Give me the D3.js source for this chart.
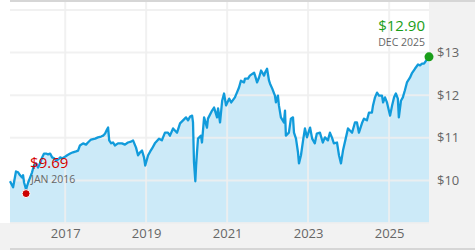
<!DOCTYPE html>
<html>
<head>
<meta charset="utf-8">
<script src="https://cdn.jsdelivr.net/npm/d3@7"></script>
<style>
  html, body { margin: 0; padding: 0; background: #fff; }
  svg { display: block; font-family: "Open Sans", sans-serif; }
</style>
</head>
<body>
<div id="chart"></div>
<script>
// price history
var dates = [
  "2015-08-22","2015-09-19","2015-10-15","2015-11-03","2015-11-21","2015-12-09","2015-12-18","2015-12-27",
  "2016-01-14","2016-02-02","2016-02-20","2016-03-08","2016-03-25","2016-04-13","2016-05-01","2016-05-19",
  "2016-06-07","2016-06-24","2016-07-12","2016-07-30","2016-08-18","2016-09-05","2016-09-23","2016-10-11",
  "2016-10-29","2016-11-17","2016-12-04","2016-12-22","2017-01-19","2017-02-15","2017-03-12","2017-04-09",
  "2017-04-27","2017-05-14","2017-06-11","2017-07-08","2017-07-25","2017-08-22","2017-09-28","2017-10-24",
  "2017-11-21","2017-12-09","2017-12-27","2018-01-14","2018-01-23","2018-02-02","2018-02-20","2018-03-08",
  "2018-03-25","2018-04-22","2018-05-28","2018-06-24","2018-07-21","2018-08-18","2018-09-05","2018-10-02",
  "2018-10-20","2018-11-08","2018-11-25","2018-12-13","2018-12-24","2019-01-19","2019-02-07","2019-02-24",
  "2019-03-21","2019-04-27","2019-05-23","2019-06-20","2019-07-17","2019-08-04","2019-09-01","2019-10-07",
  "2019-11-03","2019-11-30","2019-12-27","2020-01-14","2020-02-02","2020-02-20","2020-02-28","2020-03-08",
  "2020-03-20","2020-03-27","2020-04-04","2020-04-13","2020-05-10","2020-05-19","2020-06-07","2020-07-03",
  "2020-07-12","2020-08-18","2020-09-05","2020-10-02","2020-10-11","2020-10-29","2020-11-17","2020-12-04",
  "2020-12-22","2021-01-19","2021-02-07","2021-03-12","2021-03-30","2021-04-18","2021-05-05","2021-06-02",
  "2021-06-11","2021-07-08","2021-07-25","2021-09-01","2021-09-10","2021-09-28","2021-10-15","2021-11-03",
  "2021-11-30","2021-12-09","2021-12-27","2022-01-14","2022-01-23","2022-02-11","2022-03-08","2022-03-17",
  "2022-04-04","2022-04-13","2022-05-01","2022-05-28","2022-06-07","2022-06-15","2022-07-12","2022-07-30",
  "2022-08-18","2022-08-27","2022-09-14","2022-10-02","2022-10-11","2022-10-29","2022-11-17","2022-12-04",
  "2022-12-22","2023-01-10","2023-01-19","2023-02-07","2023-03-03","2023-03-21","2023-04-18","2023-05-14",
  "2023-06-02","2023-06-29","2023-07-17","2023-08-04","2023-08-22","2023-09-19","2023-10-07","2023-10-25",
  "2023-11-12","2023-12-09","2023-12-27","2024-01-14","2024-02-02","2024-02-28","2024-03-17","2024-04-04",
  "2024-05-01","2024-05-19","2024-06-15","2024-07-03","2024-07-30","2024-08-09","2024-08-27","2024-09-14",
  "2024-10-02","2024-10-29","2024-11-08","2024-11-25","2024-12-13","2025-01-10","2025-01-28","2025-02-15",
  "2025-03-03","2025-03-21","2025-03-30","2025-04-18","2025-05-05","2025-05-23","2025-06-11","2025-07-08",
  "2025-07-25","2025-08-22","2025-09-19","2025-10-07","2025-10-25","2025-11-12","2025-12-09","2025-12-27"
];
var prices = [
  9.98,9.84,10.21,10.19,10.12,10.07,10.12,9.95,
  9.79,9.95,10.07,10.19,10.35,10.40,10.30,10.40,
  10.54,10.63,10.63,10.61,10.63,10.54,10.52,10.47,
  10.49,10.54,10.52,10.54,10.59,10.63,10.66,10.68,
  10.70,10.82,10.87,10.84,10.89,10.96,10.98,11.01,
  11.03,11.05,11.10,11.20,11.24,10.94,10.87,10.89,
  10.82,10.87,10.87,10.84,10.89,10.91,10.94,10.77,
  10.59,10.66,10.70,10.54,10.35,10.59,10.68,10.75,
  10.87,10.98,10.94,11.12,11.12,11.05,11.22,11.12,
  11.34,11.41,11.48,11.41,11.50,11.52,11.36,10.42,
  9.98,10.35,10.66,10.98,11.05,10.89,11.48,11.24,
  11.45,11.64,11.71,11.48,11.69,11.36,11.87,12.04,
  11.76,11.92,11.83,11.95,12.06,12.18,12.34,12.30,
  12.39,12.39,12.46,12.53,12.46,12.30,12.41,12.58,
  12.46,12.53,12.62,12.34,12.27,12.16,11.99,11.83,
  11.99,11.76,11.48,11.36,11.64,11.05,11.12,11.45,
  11.48,11.12,10.98,10.66,10.40,10.59,10.94,11.22,
  11.01,11.17,11.24,10.98,10.87,11.10,11.12,10.89,
  11.01,10.94,11.12,11.01,10.87,10.89,10.59,10.40,
  10.70,11.01,11.22,11.17,11.12,11.36,11.36,11.12,
  11.34,11.45,11.41,11.59,11.59,11.76,11.95,12.06,
  11.99,11.99,11.83,11.95,11.83,11.52,11.76,11.95,
  12.04,11.92,11.48,11.87,11.95,12.11,12.30,12.41,
  12.51,12.62,12.72,12.70,12.74,12.74,12.84,12.90
];
var yTicks = [10, 11, 12, 13];
var yGrid = [9, 10, 11, 12, 13, 14];
var xTickYears = [2017, 2019, 2021, 2023, 2025];
var lowPoint = {date: "2016-01-14", value: 9.69, label: "JAN 2016"};
var highPoint = {date: "2025-12-27", value: 12.90, label: "DEC 2025"};

var parse = d3.timeParse("%Y-%m-%d");
var data = dates.map(function(d, i) { return {date: parse(d), value: prices[i]}; });

var W = 475, H = 250;
var plot = {left: 10, right: 429, top: 10, bottom: 223};

var svg = d3.select("#chart").append("svg")
  .attr("width", W)
  .attr("height", H);

// frame: grey bands and borders
svg.append("rect").attr("x", 0).attr("y", plot.bottom).attr("width", W).attr("height", H - plot.bottom).attr("fill", "#f2f2f2");
svg.append("rect").attr("x", plot.right).attr("y", 0).attr("width", W - plot.right).attr("height", H).attr("fill", "#f2f2f2");
svg.append("rect").attr("x", plot.left).attr("y", 0).attr("width", W - plot.left).attr("height", 2).attr("fill", "#d6d6d6");
svg.append("rect").attr("x", plot.left).attr("y", 248).attr("width", W - plot.left).attr("height", 2).attr("fill", "#d6d6d6");

var x = d3.scaleTime()
  .domain(d3.extent(data, function(d) { return d.date; }))
  .range([plot.left, plot.right]);

var y = d3.scaleLinear()
  .domain([9, 14])
  .range([plot.bottom, plot.top]);

// area under the line
svg.append("path")
  .datum(data)
  .attr("fill", "#cceaf8")
  .attr("d", d3.area()
    .x(function(d) { return x(d.date); })
    .y0(plot.bottom)
    .y1(function(d) { return y(d.value); }));

// grid lines
svg.append("g").selectAll("line")
  .data(yGrid)
  .join("line")
    .attr("x1", plot.left).attr("x2", plot.right)
    .attr("y1", function(d) { return y(d); }).attr("y2", function(d) { return y(d); })
    .attr("stroke", "#eeeeee").attr("stroke-opacity", 0.85).attr("stroke-width", 2);

svg.append("g").selectAll("line")
  .data(xTickYears)
  .join("line")
    .attr("x1", function(d) { return x(new Date(d, 0, 1)); })
    .attr("x2", function(d) { return x(new Date(d, 0, 1)); })
    .attr("y1", 2).attr("y2", plot.bottom)
    .attr("stroke", "#eeeeee").attr("stroke-opacity", 0.85).attr("stroke-width", 2);

// the price line
svg.append("path")
  .datum(data)
  .attr("fill", "none")
  .attr("stroke", "#119bdb")
  .attr("stroke-width", 2.3)
  .attr("stroke-linejoin", "round")
  .attr("d", d3.line()
    .x(function(d) { return x(d.date); })
    .y(function(d) { return y(d.value); }));

// axes
var yAxis = svg.append("g")
  .attr("transform", "translate(" + plot.right + ",0)")
  .call(d3.axisRight(y).tickValues(yTicks).tickSize(0).tickPadding(8)
    .tickFormat(function(d) { return "$" + d; }));
yAxis.select(".domain").remove();
yAxis.selectAll("text").attr("fill", "#666").attr("font-size", 13).attr("font-family", "Open Sans, sans-serif");

var xAxis = svg.append("g")
  .attr("transform", "translate(0," + plot.bottom + ")")
  .call(d3.axisBottom(x)
    .tickValues(xTickYears.map(function(d) { return new Date(d, 0, 1); }))
    .tickSize(0).tickPadding(6)
    .tickFormat(d3.timeFormat("%Y")));
xAxis.select(".domain").remove();
xAxis.selectAll("text").attr("fill", "#666").attr("font-size", 13).attr("font-family", "Open Sans, sans-serif");

// low and latest markers
var lo = {x: x(parse(lowPoint.date)), y: y(lowPoint.value)};
var hi = {x: x(parse(highPoint.date)), y: y(highPoint.value)};

svg.append("circle").attr("cx", lo.x).attr("cy", lo.y).attr("r", 4)
  .attr("fill", "#cc0000").attr("stroke", "#fff").attr("stroke-width", 1);
svg.append("text").attr("x", lo.x + 4).attr("y", lo.y - 26)
  .attr("fill", "#d40000").attr("font-size", 15).text("$" + lowPoint.value.toFixed(2));
svg.append("text").attr("x", lo.x + 5).attr("y", lo.y - 11)
  .attr("fill", "#666").attr("font-size", 10.5).text(lowPoint.label);

svg.append("circle").attr("cx", hi.x).attr("cy", hi.y).attr("r", 4.5)
  .attr("fill", "#1a9e1a");
svg.append("text").attr("x", hi.x - 4).attr("y", hi.y - 26).attr("text-anchor", "end")
  .attr("fill", "#1a9e1a").attr("font-size", 15).text("$" + highPoint.value.toFixed(2));
svg.append("text").attr("x", hi.x - 4).attr("y", hi.y - 11).attr("text-anchor", "end")
  .attr("fill", "#666").attr("font-size", 10.5).text(highPoint.label);
</script>
</body>
</html>
